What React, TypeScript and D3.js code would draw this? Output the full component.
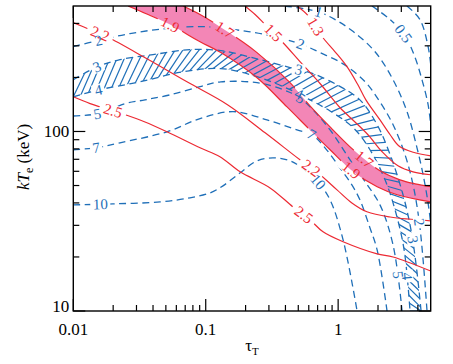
import React, { useEffect, useRef } from "react";
import * as d3 from "d3";

type Pt = [number, number];

const W = 453;
const H = 364;

const TAU_DOMAIN: Pt = [0.01, 5];
const KT_DOMAIN: Pt = [10, 500];

const xMajorTicks = [0.01, 0.1, 1];
const xTickLabels = ["0.01", "0.1", "1"];
const xMinorTicks = [0.02, 0.03, 0.04, 0.05, 0.06, 0.07, 0.08, 0.09, 0.2, 0.3, 0.4, 0.5, 0.6, 0.7, 0.8, 0.9, 2, 3, 4];
const yMajorTicks = [10, 100];
const yTickLabels = ["10", "100"];
const yMinorTicks = [20, 30, 40, 50, 60, 70, 80, 90, 200, 300, 400];

// red solid contours (tau, kTe)
const red13: Pt[] = [[0.489, 500], [0.593, 442], [0.757, 337], [0.948, 278], [1.17, 229], [1.41, 182], [1.62, 150], [2.07, 116], [2.47, 95.9], [2.93, 82.1], [3.81, 76.1], [5.0, 73.2]];
const red15: Pt[] = [[0.198, 500], [0.236, 448], [0.281, 394], [0.384, 312], [0.515, 245], [0.73, 185], [1.03, 136], [1.34, 113], [1.68, 95.9], [2.15, 77.1], [2.83, 64.4], [3.68, 59.6], [5.0, 57.4]];
const red17: Pt[] = [[0.0674, 500], [0.0906, 448], [0.135, 374], [0.244, 275], [0.433, 187], [0.613, 139], [0.869, 106], [1.23, 82.1], [1.6, 69.5], [2.07, 60.4], [2.93, 53.8], [3.81, 51.1], [5.0, 49.2]];
const red19: Pt[] = [[0.0259, 500], [0.0367, 448], [0.0538, 394], [0.0906, 316], [0.13, 275], [0.244, 199], [0.411, 137], [0.613, 102], [0.869, 79.1], [1.3, 59.6], [1.97, 49.2], [2.79, 44.4], [5.0, 40.5]];
const red22: Pt[] = [[0.01, 404], [0.0134, 369], [0.018, 337], [0.036, 254], [0.0722, 189], [0.146, 141], [0.281, 98.3], [0.515, 69.5], [0.73, 57.4], [0.981, 47.3], [1.27, 40.0], [1.65, 35.7], [2.47, 33.4], [5.0, 31.8]];
const red25: Pt[] = [[0.01, 156], [0.0134, 143], [0.0189, 132], [0.0246, 124], [0.0348, 113], [0.051, 99.6], [0.0906, 81.1], [0.128, 72.3], [0.182, 59.6], [0.306, 48.5], [0.456, 38.0], [0.613, 32.2], [0.769, 27.6], [1.09, 24.3], [1.97, 20.8], [2.6, 20.0], [5.0, 16.7]];

// blue dashed contours
const blue05: Pt[] = [[1.8, 500], [2.47, 420], [3.15, 346], [3.74, 268], [4.3, 194], [4.78, 141], [5.0, 109]];
const blueCorner: Pt[] = [[3.31, 500], [4.15, 420], [4.78, 297], [5.0, 236]];
const blue1: Pt[] = [[0.397, 500], [0.705, 465], [0.948, 420], [1.3, 360], [1.9, 278], [2.6, 194], [3.31, 129], [3.94, 81.1], [4.46, 53.8], [4.86, 36.6], [5.0, 30.2]];
const blue2: Pt[] = [[0.01, 297], [0.0151, 320], [0.0268, 351], [0.0493, 374], [0.0906, 384], [0.166, 369], [0.306, 342], [0.515, 308], [0.73, 275], [1.09, 238], [1.6, 189], [2.07, 146], [2.6, 109], [3.2, 74.2], [3.68, 50.4], [4.08, 32.2], [4.38, 19.3], [4.69, 10]];
const blue3: Pt[] = [[0.01, 194], [0.0151, 229], [0.0225, 251], [0.04, 268], [0.0761, 286], [0.13, 282], [0.244, 254], [0.433, 227], [0.613, 213], [0.981, 182], [1.46, 150], [1.97, 109], [2.47, 74.2], [3.09, 44.4], [3.55, 28.3], [3.88, 18.1], [4.23, 10]];
const blue4: Pt[] = [[0.01, 156], [0.0159, 171], [0.0319, 189], [0.0674, 215], [0.13, 224], [0.244, 202], [0.433, 171], [0.613, 150], [0.869, 130], [1.3, 105], [1.74, 79.1], [2.26, 53.8], [2.69, 36.6], [3.15, 21.9], [3.49, 10]];
const blue5: Pt[] = [[0.01, 122], [0.0159, 126], [0.0246, 143], [0.0348, 150], [0.0538, 160], [0.0906, 178], [0.13, 189], [0.244, 187], [0.384, 171], [0.515, 154], [0.646, 132], [0.869, 102], [1.23, 69.5], [1.6, 52.4], [2.07, 39.0], [2.6, 23.3], [3.04, 10]];
const blue7: Pt[] = [[0.01, 79.1], [0.0148, 81.1], [0.0225, 86.5], [0.051, 99.6], [0.0906, 118], [0.161, 129], [0.29, 116], [0.489, 102], [0.635, 95.9], [0.796, 81.1], [1.03, 62.8], [1.27, 50.4], [1.46, 41.6], [1.74, 29.0], [1.97, 21.9], [2.34, 10]];
const blue10: Pt[] = [[0.01, 39.0], [0.0199, 39.5], [0.0452, 40.5], [0.0761, 42.7], [0.108, 45.5], [0.135, 49.8], [0.182, 58.9], [0.244, 68.6], [0.322, 71.3], [0.433, 68.6], [0.562, 61.1], [0.705, 52.4], [0.869, 41.6], [1.09, 24.9], [1.39, 10]];

const redLevels = ["1.3", "1.5", "1.7", "1.9", "2.2", "2.5"];
const redLines = [red13, red15, red17, red19, red22, red25];
const blueLevels = ["0.5", "corner", "1", "2", "3", "4", "5", "7", "10"];
const blueLines = [blue05, blueCorner, blue1, blue2, blue3, blue4, blue5, blue7, blue10];

// contour labels: [text, tau, kTe]
const redLabels: [string, number, number][] = [
  ["2.2", 0.0159, 355], ["1.9", 0.0538, 394], ["1.7", 0.142, 374], ["1.5", 0.322, 355], ["1.3", 0.681, 384],
  ["2.5", 0.0199, 130], ["2.5", 0.562, 34.8], ["2.2", 0.613, 61.1], ["1.9", 1.23, 60.4], ["1.7", 1.57, 69.5],
];
const blueLabels: [string, number, number][] = [
  ["0.5", 3.15, 351], ["1", 0.705, 465],
  ["2", 0.0154, 320], ["2", 0.525, 308], ["2", 4.15, 31.4],
  ["3", 0.0151, 229], ["3", 0.515, 238], ["3", 3.68, 24.9],
  ["4", 0.0154, 173], ["4", 0.562, 189], ["4", 3.31, 15.7],
  ["5", 0.0151, 124], ["5", 0.515, 150], ["5", 2.79, 15.9],
  ["7", 0.0148, 82.1], ["7", 0.635, 97.1],
  ["10", 0.0159, 39.0], ["10", 0.705, 52.4],
];

const RED = "#ec2a33";
const BLUE = "#1f6fb8";
const PINK = "#f386b6";
const FONT = "'Liberation Serif', 'Times New Roman', serif";

export default function App() {
  const ref = useRef<SVGSVGElement>(null);
  useEffect(() => {
    const el = ref.current;
    if (!el) return;
    const svg = d3.select(el);
    svg.selectAll("*").remove();
    const L = 73.3, R = 430.7, T = 6, B = 311;
    const x = d3.scaleLog().domain(TAU_DOMAIN).range([L, R]);
    const y = d3.scaleLog().domain(KT_DOMAIN).range([B, T]);
    const line = d3.line<Pt>().x((d) => x(d[0])).y((d) => y(d[1])).curve(d3.curveCatmullRom.alpha(0.5));
    const closed = (a: Pt[], b: Pt[]) => line(a)! + line([...b].reverse())!.replace(/^M/, "L") + "Z";

    const defs = svg.append("defs");
    defs.append("clipPath").attr("id", "plotClip").append("rect")
      .attr("x", L).attr("y", T).attr("width", R - L).attr("height", B - T);
    defs.append("clipPath").attr("id", "hatchClip").append("path").attr("d", closed(blue3, blue4));
    const mask = defs.append("mask").attr("id", "lblMask").attr("maskUnits", "userSpaceOnUse")
      .attr("x", 0).attr("y", 0).attr("width", W).attr("height", H);
    mask.append("rect").attr("width", W).attr("height", H).attr("fill", "white");

    const plot = svg.append("g").attr("clip-path", "url(#plotClip)");
    plot.append("path").attr("d", closed(red17, red19)).attr("fill", PINK);

    const lines = plot.append("g").attr("mask", "url(#lblMask)");
    const hatchG = lines.append("g").attr("clip-path", "url(#hatchClip)");
    const blueNodes = blueLines.map((pts) =>
      lines.append("path").attr("d", line(pts)).attr("fill", "none").attr("stroke", BLUE)
        .attr("stroke-width", 1.3).attr("stroke-dasharray", "7 4.5").node() as SVGPathElement);
    const redNodes = redLines.map((pts) =>
      lines.append("path").attr("d", line(pts)).attr("fill", "none").attr("stroke", RED)
        .attr("stroke-width", 1.2).node() as SVGPathElement);

    // hatching between the 3 and 4 contours
    const b3 = blueNodes[4], b4 = blueNodes[5];
    const L3 = b3.getTotalLength(), L4 = b4.getTotalLength();
    const N = 62, off = 0.025;
    for (let i = 0; i <= N; i++) {
      const t = i / N;
      const p4 = b4.getPointAtLength(Math.min(1, t) * L4);
      const p3 = b3.getPointAtLength(Math.min(1, t + off) * L3);
      const dx = p3.x - p4.x, dy = p3.y - p4.y;
      const len = Math.hypot(dx, dy) || 1;
      const ex = (dx / len) * 3, ey = (dy / len) * 3;
      hatchG.append("line").attr("x1", p4.x - ex).attr("y1", p4.y - ey).attr("x2", p3.x + ex).attr("y2", p3.y + ey)
        .attr("stroke", BLUE).attr("stroke-width", 1.2);
    }

    const place = (node: SVGPathElement, tx: number, ty: number) => {
      const len = node.getTotalLength();
      let best = 0, bd = Infinity;
      for (let s = 0; s <= len; s += 1) {
        const p = node.getPointAtLength(s);
        const d = (p.x - tx) ** 2 + (p.y - ty) ** 2;
        if (d < bd) { bd = d; best = s; }
      }
      const p = node.getPointAtLength(best);
      const a = node.getPointAtLength(Math.max(0, best - 3));
      const b = node.getPointAtLength(Math.min(len, best + 3));
      let ang = (Math.atan2(b.y - a.y, b.x - a.x) * 180) / Math.PI;
      if (ang > 90) ang -= 180;
      if (ang < -90) ang += 180;
      return { x: p.x, y: p.y, ang };
    };

    const labelLayer = svg.append("g");
    const drawLabels = (labels: [string, number, number][], levels: string[], nodes: SVGPathElement[], color: string) => {
      labels.forEach(([txt, tau, kt]) => {
        const node = nodes[levels.indexOf(txt)];
        const pos = place(node, x(tau), y(kt));
        const fs = 15;
        const w = txt.length * fs * 0.5 + 5;
        const h = fs * 0.8;
        const tr = `translate(${pos.x},${pos.y}) rotate(${pos.ang})`;
        mask.append("rect").attr("transform", tr).attr("x", -w / 2).attr("y", -h / 2).attr("width", w).attr("height", h).attr("fill", "black");
        labelLayer.append("text").attr("transform", tr).attr("text-anchor", "middle").attr("dominant-baseline", "central")
          .attr("font-family", FONT).attr("font-size", fs).attr("fill", color).text(txt);
      });
    };
    drawLabels(redLabels, redLevels, redNodes, RED);
    drawLabels(blueLabels, blueLevels, blueNodes, BLUE);

    // frame and ticks
    const ax = svg.append("g").attr("stroke", "#000").attr("stroke-width", 1.2);
    const tick = (v: number, len: number, axis: "x" | "y") => {
      if (axis === "x") {
        ax.append("line").attr("x1", x(v)).attr("x2", x(v)).attr("y1", B).attr("y2", B - len);
        ax.append("line").attr("x1", x(v)).attr("x2", x(v)).attr("y1", T).attr("y2", T + len);
      } else {
        ax.append("line").attr("y1", y(v)).attr("y2", y(v)).attr("x1", L).attr("x2", L + len);
        ax.append("line").attr("y1", y(v)).attr("y2", y(v)).attr("x1", R).attr("x2", R - len);
      }
    };
    xMajorTicks.forEach((v) => tick(v, 12, "x"));
    xMinorTicks.forEach((v) => tick(v, 6, "x"));
    yMajorTicks.forEach((v) => tick(v, 12, "y"));
    yMinorTicks.forEach((v) => tick(v, 6, "y"));
    svg.append("rect").attr("x", L).attr("y", T).attr("width", R - L).attr("height", B - T)
      .attr("fill", "none").attr("stroke", "#000").attr("stroke-width", 1.4);

    const tl = svg.append("g").attr("font-family", FONT).attr("font-size", 17).attr("fill", "#000");
    xMajorTicks.forEach((v, i) => {
      tl.append("text").attr("x", x(v)).attr("y", B + 24).attr("text-anchor", "middle").text(xTickLabels[i]);
    });
    yMajorTicks.forEach((v, i) => {
      tl.append("text").attr("x", L - 4).attr("y", y(v) - (v === 10 ? 5 : 0)).attr("dy", "0.35em")
        .attr("text-anchor", "end").text(yTickLabels[i]);
    });

    const xl = tl.append("text").attr("x", 252).attr("y", 351).attr("text-anchor", "middle");
    xl.append("tspan").text("τ");
    xl.append("tspan").attr("font-size", 11).attr("dy", 4).text("T");

    const yl = tl.append("text").attr("transform", "translate(29,157) rotate(-90)").attr("text-anchor", "middle");
    yl.append("tspan").attr("font-style", "italic").text("kT");
    yl.append("tspan").attr("font-size", 12).attr("dy", 4).text("e");
    yl.append("tspan").attr("dy", -4).text(" (keV)");
  }, []);

  return (
    <svg
      ref={ref}
      width={W}
      height={H}
      style={{ position: "absolute", left: 0, top: 0, background: "#fff" }}
    />
  );
}
